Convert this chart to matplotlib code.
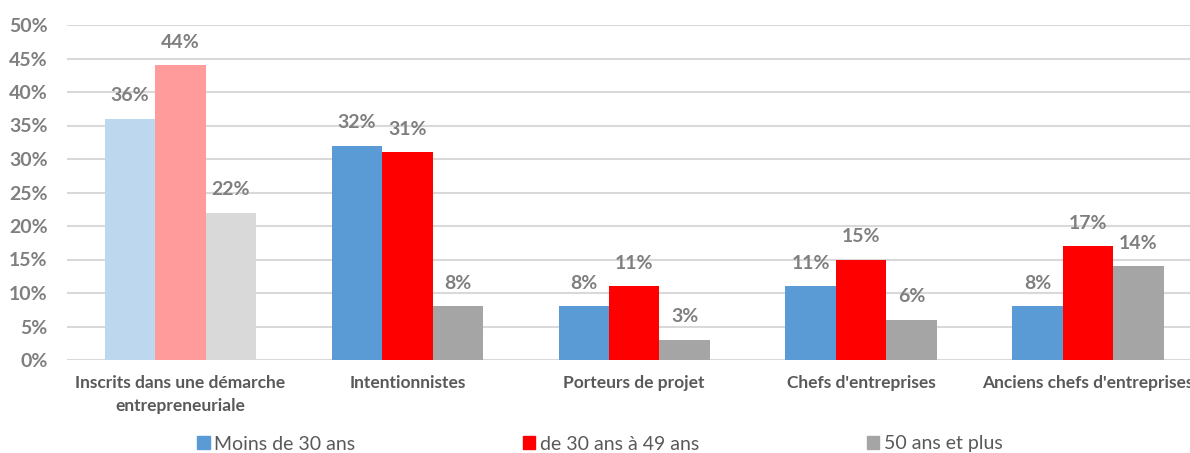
import matplotlib
matplotlib.use("Agg")
import matplotlib.pyplot as plt
from matplotlib.patches import Patch
import numpy as np

categories = ["Inscrits dans une démarche\nentrepreneuriale", "Intentionnistes",
              "Porteurs de projet", "Chefs d'entreprises", "Anciens chefs d'entreprises"]
series_names = ["Moins de 30 ans", "de 30 ans à 49 ans", "50 ans et plus"]
moins30 = [36, 32, 8, 11, 8]
de30a49 = [44, 31, 11, 15, 17]
plus50 = [22, 8, 3, 6, 14]
yticks = [0, 5, 10, 15, 20, 25, 30, 35, 40, 45, 50]

main_colors = ["#5B9BD5", "#FF0000", "#A5A5A5"]
light_colors = ["#BDD7EE", "#FF9B9B", "#D9D9D9"]
text_gray = "#7F7F7F"

plt.rcParams['font.family'] = ['Lato', 'DejaVu Sans']

W, H = 1190, 453
fig = plt.figure(figsize=(W / 100, H / 100), dpi=100)
ax = fig.add_axes([67 / W, (H - 360) / H, (W - 67) / W, (360 - 25) / H])

x = np.arange(len(categories))
bw = 0.2225
data = [moins30, de30a49, plus50]
for i, vals in enumerate(data):
    cols = [light_colors[i] if j == 0 else main_colors[i] for j in range(len(vals))]
    bars = ax.bar(x + (i - 1) * bw, vals, width=bw, color=cols, zorder=3)
    for b, v in zip(bars, vals):
        ax.annotate(f"{v}%", (b.get_x() + b.get_width() / 2, v),
                    xytext=(0, 16.5), textcoords="offset points",
                    ha="center", va="center", fontsize=14, fontweight="bold",
                    color=text_gray)

ax.set_xlim(-0.5, (W - 180) / 227 - 0.0)
ax.set_ylim(0, 50)
ax.set_yticks(yticks)
ax.set_yticklabels([f"{t}%" for t in yticks], fontsize=14, fontweight="bold", color=text_gray)
ax.set_xticks(x)
ax.set_xticklabels(categories, fontsize=12.5, fontweight="bold", color="#595959", linespacing=1.5)
ax.tick_params(axis="both", length=0)
ax.tick_params(axis="y", pad=14)
ax.tick_params(axis="x", pad=11)
ax.yaxis.grid(True, color="#D9D9D9", linewidth=1.5, zorder=0)
ax.set_axisbelow(True)
for s in ax.spines.values():
    s.set_visible(False)

handles = [Patch(color=c) for c in main_colors]
fig.legend(handles, series_names, loc="center left", bbox_to_anchor=(197 / W, 1 - 444 / H),
           ncol=3, frameon=False, fontsize=14, labelcolor="#595959",
           handlelength=0.65, handleheight=0.65, handletextpad=0.25, columnspacing=8.6,
           borderpad=0, borderaxespad=0)

fig.savefig("out.png", dpi=100)
